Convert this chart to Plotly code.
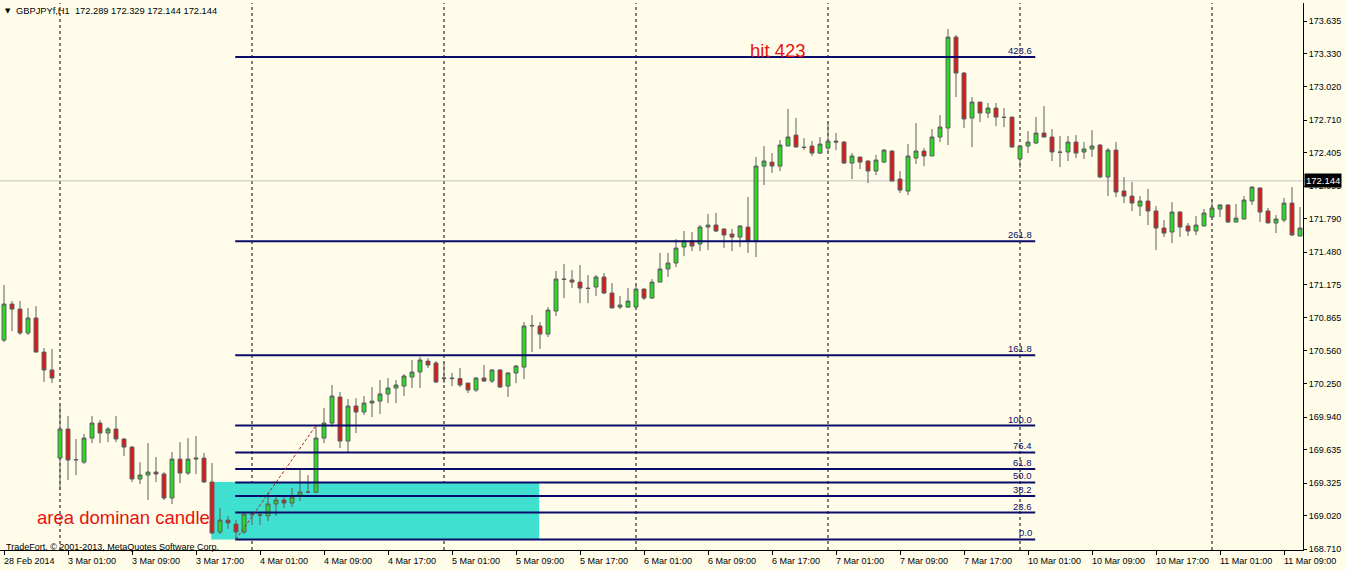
import pandas as pd
import plotly.graph_objects as go

# ---------------- data (GBPJPYf, H1) ----------------
opens = [
    170.659, 170.995, 170.948, 170.725, 170.865, 170.547, 170.380,
    169.559, 169.829, 169.540, 169.521, 169.745, 169.885, 169.792, 169.829, 169.736, 169.661, 169.363, 169.400,
    169.428, 169.410, 169.186, 169.549, 169.419, 169.549, 169.558, 169.335, 168.869, 168.980, 168.943, 168.869,
    169.036, 169.030, 169.020, 169.130, 169.167, 169.139, 169.204, 169.242, 169.240, 169.745, 169.885, 170.128,
    169.717, 170.044, 169.988, 170.072, 170.090, 170.156, 170.212, 170.230, 170.314, 170.361, 170.463, 170.445,
    170.300, 170.305, 170.300, 170.258, 170.193, 170.305, 170.277, 170.380, 170.230, 170.352, 170.407, 170.790,
    170.790, 170.715, 170.930, 171.228, 171.220, 171.200, 171.144, 171.154, 171.247, 171.098, 170.967, 170.967,
    170.967, 171.135, 171.051, 171.200, 171.322, 171.378, 171.527, 171.583, 171.555, 171.713, 171.732, 171.695,
    171.648, 171.620, 171.713, 171.583, 172.282, 172.319, 172.282, 172.469, 172.571, 172.459, 172.469, 172.403,
    172.450, 172.515, 172.506, 172.310, 172.366, 172.329, 172.236, 172.319, 172.422, 172.161, 172.049, 172.357,
    172.422, 172.376, 172.553, 172.637, 173.485, 173.150, 172.730, 172.879, 172.777, 172.823, 172.739, 172.739,
    172.348, 172.469, 172.497, 172.590, 172.553, 172.413, 172.413, 172.506, 172.413, 172.441, 172.478, 172.180,
    172.431, 172.049, 172.002, 171.909, 171.956, 171.863, 171.704, 171.667, 171.853, 171.723, 171.676, 171.723,
    171.807, 171.881, 171.919, 171.760, 171.788, 171.956, 172.077, 171.863, 171.751, 171.779, 171.937, 171.629,
]
highs = [
    171.172, 171.023, 171.023, 170.958, 170.976, 170.585, 170.575,
    170.053, 169.950, 169.736, 169.783, 169.950, 169.913, 169.848, 169.950, 169.745, 169.670, 169.521, 169.699,
    169.568, 169.428, 169.615, 169.708, 169.745, 169.764, 169.605, 169.512, 169.092, 169.018, 168.980, 169.040,
    169.046, 169.046, 169.232, 169.214, 169.195, 169.279, 169.447, 169.400, 169.862, 170.025, 170.240, 170.174,
    170.109, 170.118, 170.137, 170.221, 170.286, 170.305, 170.286, 170.342, 170.473, 170.501, 170.491, 170.463,
    170.454, 170.352, 170.398, 170.260, 170.314, 170.426, 170.389, 170.389, 170.361, 170.426, 170.827, 170.893,
    170.827, 170.967, 171.303, 171.368, 171.312, 171.359, 171.266, 171.266, 171.284, 171.191, 171.070, 171.144,
    171.172, 171.140, 171.228, 171.471, 171.471, 171.601, 171.676, 171.667, 171.732, 171.835, 171.844, 171.700,
    171.695, 171.732, 171.993, 172.366, 172.469, 172.403, 172.525, 172.814, 172.730, 172.543, 172.515, 172.553,
    172.693, 172.590, 172.515, 172.403, 172.370, 172.335, 172.385, 172.441, 172.430, 172.236, 172.487, 172.683,
    172.450, 172.627, 172.758, 173.560, 173.504, 173.159, 172.926, 172.880, 172.870, 172.870, 172.823, 172.740,
    172.475, 172.609, 172.739, 172.842, 172.627, 172.562, 172.562, 172.571, 172.506, 172.618, 172.487, 172.450,
    172.506, 172.180, 172.133, 172.002, 172.068, 171.909, 171.779, 171.946, 171.863, 171.751, 171.816, 171.881,
    171.965, 171.928, 171.925, 171.928, 172.002, 172.096, 172.086, 171.891, 171.825, 171.984, 172.086, 171.900,
]
lows = [
    170.641, 170.743, 170.706, 170.706, 170.547, 170.268, 170.258,
    169.260, 169.354, 169.400, 169.503, 169.699, 169.699, 169.708, 169.708, 169.577, 169.335, 169.316, 169.167,
    169.335, 169.167, 169.130, 169.326, 169.400, 169.410, 169.326, 168.850, 168.850, 168.897, 168.800, 168.850,
    168.934, 168.934, 168.971, 169.018, 169.092, 169.102, 169.158, 169.232, 169.232, 169.699, 169.848, 169.652,
    169.615, 169.792, 169.960, 169.941, 169.969, 170.072, 170.072, 170.137, 170.212, 170.212, 170.398, 170.258,
    170.258, 170.230, 170.221, 170.165, 170.174, 170.268, 170.258, 170.212, 170.128, 170.258, 170.296, 170.547,
    170.575, 170.687, 170.883, 171.051, 171.144, 171.004, 171.004, 171.070, 171.088, 170.958, 170.948, 170.958,
    170.958, 171.032, 171.042, 171.200, 171.247, 171.340, 171.443, 171.489, 171.489, 171.499, 171.667, 171.517,
    171.489, 171.527, 171.471, 171.433, 172.105, 172.217, 172.236, 172.469, 172.459, 172.431, 172.376, 172.394,
    172.413, 172.431, 172.301, 172.161, 172.254, 172.124, 172.198, 172.310, 172.142, 172.030, 172.012, 172.301,
    172.282, 172.376, 172.506, 172.478, 172.926, 172.637, 172.459, 172.693, 172.730, 172.655, 172.646, 172.455,
    172.264, 172.403, 172.487, 172.550, 172.329, 172.273, 172.329, 172.357, 172.348, 172.366, 172.170, 172.002,
    171.993, 171.937, 171.863, 171.816, 171.732, 171.499, 171.620, 171.564, 171.620, 171.629, 171.639, 171.720,
    171.805, 171.807, 171.751, 171.755, 171.785, 171.919, 171.760, 171.750, 171.657, 171.760, 171.629, 171.629,
]
closes = [
    170.995, 170.948, 170.725, 170.865, 170.547, 170.380, 170.305,
    169.829, 169.540, 169.545, 169.745, 169.885, 169.792, 169.829, 169.736, 169.661, 169.363, 169.400, 169.428,
    169.410, 169.186, 169.549, 169.419, 169.549, 169.558, 169.335, 168.859, 168.980, 168.953, 168.869, 169.036,
    169.030, 169.025, 169.130, 169.167, 169.139, 169.195, 169.242, 169.240, 169.745, 169.885, 170.137, 169.717,
    170.044, 169.988, 170.072, 170.090, 170.156, 170.212, 170.240, 170.324, 170.361, 170.473, 170.426, 170.268,
    170.305, 170.300, 170.240, 170.193, 170.305, 170.277, 170.380, 170.221, 170.352, 170.417, 170.790, 170.795,
    170.715, 170.939, 171.228, 171.225, 171.200, 171.144, 171.140, 171.247, 171.098, 170.958, 170.986, 171.023,
    171.135, 171.051, 171.200, 171.322, 171.378, 171.517, 171.583, 171.536, 171.713, 171.732, 171.676, 171.639,
    171.620, 171.723, 171.583, 172.282, 172.329, 172.282, 172.478, 172.553, 172.459, 172.455, 172.403, 172.487,
    172.515, 172.506, 172.310, 172.376, 172.319, 172.236, 172.338, 172.431, 172.142, 172.058, 172.376, 172.422,
    172.376, 172.553, 172.646, 173.485, 173.150, 172.721, 172.879, 172.777, 172.823, 172.739, 172.735, 172.459,
    172.469, 172.506, 172.590, 172.553, 172.413, 172.410, 172.506, 172.403, 172.441, 172.469, 172.180, 172.431,
    172.040, 172.002, 171.937, 171.956, 171.863, 171.704, 171.657, 171.853, 171.713, 171.676, 171.732, 171.844,
    171.891, 171.919, 171.760, 171.797, 171.965, 172.086, 171.853, 171.751, 171.788, 171.937, 171.639, 171.704,
]

# hourly bar times (weekend skipped)
times = list(pd.date_range("2014-02-28 17:00", periods=7, freq="h"))
for day in ["2014-03-03", "2014-03-04", "2014-03-05", "2014-03-06", "2014-03-07", "2014-03-10"]:
    times += list(pd.date_range(day + " 00:00", periods=24, freq="h"))
times += list(pd.date_range("2014-03-11 00:00", periods=12, freq="h"))
bars = list(range(len(times)))

price_ticks = [168.710, 169.020, 169.325, 169.635, 169.940, 170.250, 170.560, 170.865, 171.175,
               171.480, 171.790, 172.095, 172.405, 172.710, 173.020, 173.330, 173.635]
y_range = [168.701, 173.803]
bid_price = 172.144
header_text = "GBPJPYf,H1\u00a0\u00a0172.289 172.329 172.144 172.144"

# Fibonacci retracement (from bar 29 low to bar 39 high)
fib_low = 168.800
fib_high = 169.862
fib_levels = [0.0, 23.6, 38.2, 50.0, 61.8, 76.4, 100.0, 161.8, 261.8, 423.6]
fib_start_bar = 29
fib_end_bar = 128.9
fib_high_bar = 39

# "area dominan candle" zone
zone_start_bar = 26
zone_end_bar = 67
zone_top = opens[26]
zone_bottom = fib_low

BG = "#FFFDE9"
FONT = "Liberation Sans, Arial, sans-serif"
NAVY = "#0A0A6A"

fig = go.Figure()
fig.add_trace(go.Candlestick(
    x=bars, open=opens, high=highs, low=lows, close=closes,
    increasing=dict(fillcolor="#26DA26", line=dict(color="#5E5E5E", width=1)),
    decreasing=dict(fillcolor="#DC1818", line=dict(color="#5E5E5E", width=1)),
    whiskerwidth=0, showlegend=False, hoverinfo="skip",
))

shapes = []
# zone rectangle
shapes.append(dict(type="rect", xref="x", yref="y", x0=zone_start_bar - 0.1, x1=zone_end_bar - 0.1,
                   y0=zone_bottom, y1=zone_top, fillcolor="#40E0D0", line=dict(width=0), layer="below"))
# period separators
for i, t in enumerate(times):
    if t.hour == 0:
        shapes.append(dict(type="line", xref="x", yref="paper", x0=i, x1=i, y0=0, y1=1,
                           line=dict(color="black", width=1, dash="3px,3px"), layer="below"))
# bid line
shapes.append(dict(type="line", xref="paper", yref="y", x0=0, x1=1, y0=bid_price, y1=bid_price,
                   line=dict(color="#C0C0C0", width=1), layer="below"))
# fib levels
annotations = []
for lv in fib_levels:
    p = fib_low + lv / 100.0 * (fib_high - fib_low)
    shapes.append(dict(type="line", xref="x", yref="y", x0=fib_start_bar - 0.1, x1=fib_end_bar, y0=p, y1=p,
                       line=dict(color=NAVY, width=2), layer="above"))
    annotations.append(dict(x=fib_end_bar - 0.2, y=p, xref="x", yref="y", text=f"{lv:.1f}",
                            xanchor="right", yanchor="bottom", showarrow=False, yshift=-1,
                            font=dict(family=FONT, size=9.5, color=NAVY)))
# fib trend line
shapes.append(dict(type="line", xref="x", yref="y", x0=fib_start_bar, y0=fib_low, x1=fib_high_bar, y1=fib_high,
                   line=dict(color="#B02020", width=1, dash="3px,2px"), layer="above"))

# time axis labels
tick_bars = bars[::8]
for i in tick_bars:
    t = times[i]
    lab = f"{t.day} {t.strftime('%b %Y')}" if i == 0 else f"{t.day} {t.strftime('%b %H:%M')}"
    annotations.append(dict(x=i, y=0, xref="x", yref="paper", text=lab, xanchor="left", yanchor="top",
                            yshift=-4, xshift=-2, showarrow=False, font=dict(family=FONT, size=9, color="black")))

# header
annotations.append(dict(x=0, y=1, xref="paper", yref="paper", text="▼", xanchor="left", yanchor="top",
                        xshift=3, yshift=-2, showarrow=False, font=dict(family="DejaVu Sans", size=7, color="black")))
annotations.append(dict(x=0, y=1, xref="paper", yref="paper", text=header_text, xanchor="left", yanchor="top",
                        xshift=14, yshift=-1, showarrow=False, font=dict(family=FONT, size=9.3, color="black")))
# copyright
annotations.append(dict(x=0, y=0, xref="paper", yref="paper",
                        text="TradeFort, © 2001-2013, MetaQuotes Software Corp.", xanchor="left", yanchor="bottom",
                        xshift=4, yshift=-4, showarrow=False, font=dict(family=FONT, size=9, color="black")))
# bid label
annotations.append(dict(x=1, y=bid_price, xref="paper", yref="y", text="172.144", xanchor="left", yanchor="middle",
                        xshift=1, showarrow=False, bgcolor="black", borderpad=1,
                        font=dict(family=FONT, size=9.5, color="white")))
# hand-drawn texts
annotations.append(dict(x=96.8, y=173.364, xref="x", yref="y", text="hit 423", showarrow=False,
                        font=dict(family=FONT, size=18.5, color="#E81010")))
annotations.append(dict(x=3.9, y=169.008, xref="x", yref="y", text="area dominan candle", showarrow=False,
                        xanchor="left", font=dict(family=FONT, size=18.5, color="#E81010")))

fig.update_layout(
    width=1346, height=571,
    margin=dict(l=0, r=43, t=3, b=21),
    paper_bgcolor=BG, plot_bgcolor=BG,
    shapes=shapes, annotations=annotations,
    showlegend=False,
    xaxis=dict(range=[-0.5, 162.375], rangeslider=dict(visible=False), showgrid=False, zeroline=False,
               showline=True, linecolor="black", linewidth=1,
               tickvals=tick_bars, ticktext=[""] * len(tick_bars), ticks="outside", ticklen=4,
               tickcolor="black", fixedrange=True),
    yaxis=dict(range=y_range, side="right", showgrid=False, zeroline=False, showline=True,
               linecolor="black", linewidth=1, tickvals=price_ticks,
               ticktext=[f"{v:.3f}" for v in price_ticks], ticks="outside", ticklen=3, tickcolor="black",
               tickfont=dict(family=FONT, size=9, color="black")),
)

fig.write_html("out.html", config={"displayModeBar": False},
               post_script="document.body.style.margin='0';document.body.style.overflow='hidden';")
